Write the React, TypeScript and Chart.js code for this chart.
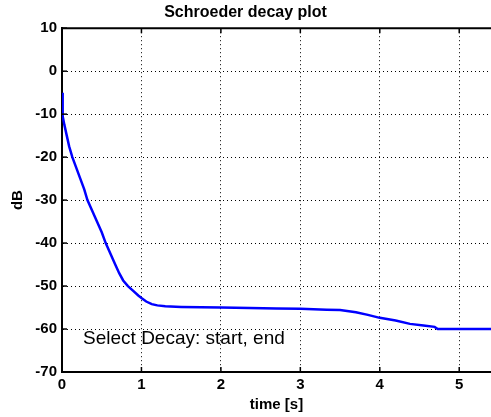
import React, { useEffect, useRef } from "react";
import { Chart, registerables } from "chart.js";

Chart.register(...registerables);

const TITLE = "Schroeder decay plot";
const X_TITLE = "time [s]";
const Y_TITLE = "dB";
const NOTE = "Select Decay: start, end";
const NOTE_POS = { x: 0.265, y: -62.3 };

const timeS = [0, 0.005, 0.012, 0.03, 0.06, 0.09, 0.13, 0.18, 0.23, 0.28, 0.32, 0.38, 0.44, 0.5, 0.55, 0.61, 0.67, 0.72, 0.77, 0.83, 0.9, 0.96, 1.0, 1.06, 1.13, 1.2, 1.3, 1.5, 1.75, 2.0, 2.36, 2.7, 3.0, 3.33, 3.5, 3.7, 3.85, 4.0, 4.2, 4.38, 4.55, 4.69, 4.73, 5.0, 5.4];
const decayDb = [-5, -8.5, -10.5, -12.5, -15, -17.5, -20, -22.5, -25, -27.5, -30, -32.5, -35, -37.5, -40, -42.5, -45, -47, -48.7, -50, -51.2, -52.2, -52.8, -53.6, -54.2, -54.5, -54.7, -54.85, -54.95, -55.0, -55.1, -55.2, -55.3, -55.5, -55.6, -56.1, -56.7, -57.4, -58.0, -58.8, -59.2, -59.5, -60, -60, -60];

const X_MIN = 0;
const X_MAX = 5.4;
const Y_MIN = -70;
const Y_MAX = 10;

const FONT = "'Liberation Sans', Arial, sans-serif";

const matlabPlugin = {
  id: "matlabExtras",
  afterDraw(chart: any) {
    const { ctx, chartArea, scales } = chart;
    const xs = scales.x;
    const ys = scales.y;
    ctx.save();
    ctx.strokeStyle = "#000";
    ctx.lineWidth = 2;
    ctx.beginPath();
    ctx.moveTo(chartArea.left, chartArea.top);
    ctx.lineTo(chartArea.right, chartArea.top);
    ctx.stroke();
    ctx.lineWidth = 1.5;
    xs.ticks.forEach((t: any) => {
      const px = xs.getPixelForValue(t.value);
      ctx.beginPath();
      ctx.moveTo(px, chartArea.bottom);
      ctx.lineTo(px, chartArea.bottom - 5);
      ctx.moveTo(px, chartArea.top);
      ctx.lineTo(px, chartArea.top + 5);
      ctx.stroke();
    });
    ys.ticks.forEach((t: any) => {
      const py = ys.getPixelForValue(t.value);
      ctx.beginPath();
      ctx.moveTo(chartArea.left, py);
      ctx.lineTo(chartArea.left + 5, py);
      ctx.stroke();
    });
    ctx.fillStyle = "#000";
    ctx.font = `19px ${FONT}`;
    ctx.textAlign = "left";
    ctx.textBaseline = "middle";
    ctx.fillText(NOTE, xs.getPixelForValue(NOTE_POS.x), ys.getPixelForValue(NOTE_POS.y));
    ctx.restore();
  },
};

export default function App() {
  const ref = useRef<HTMLCanvasElement>(null);
  useEffect(() => {
    document.body.style.margin = "0";
    document.body.style.background = "#fff";
    const chart = new Chart(ref.current!, {
      type: "line",
      data: {
        datasets: [
          {
            data: timeS.map((t, i) => ({ x: t, y: decayDb[i] })),
            borderColor: "#0000ff",
            borderWidth: 2.5,
            pointRadius: 0,
            tension: 0,
            fill: false,
          },
        ],
      },
      options: {
        animation: false,
        responsive: true,
        maintainAspectRatio: false,
        layout: { padding: { left: 0, right: 0, top: 0, bottom: 0 } },
        plugins: {
          legend: { display: false },
          tooltip: { enabled: false },
          title: {
            display: true,
            text: TITLE,
            color: "#000",
            font: { family: FONT, size: 16, weight: "bold" },
            padding: { top: 3, bottom: 6 },
          },
        },
        scales: {
          x: {
            type: "linear",
            min: X_MIN,
            max: X_MAX,
            afterFit: (s: any) => {
              s.height = 45;
            },
            ticks: {
              stepSize: 1,
              includeBounds: false,
              color: "#000",
              font: { family: FONT, size: 15, weight: "bold" },
              padding: 4,
              maxRotation: 0,
            },
            grid: {
              color: "#000",
              lineWidth: 1,
              drawTicks: false,
            },
            border: { display: true, color: "#000", width: 2, dash: [1, 3] },
            title: {
              display: true,
              text: X_TITLE,
              color: "#000",
              font: { family: FONT, size: 15, weight: "bold" },
              padding: { top: 0, bottom: 3 },
            },
          },
          y: {
            type: "linear",
            min: Y_MIN,
            max: Y_MAX,
            afterFit: (s: any) => {
              s.width = 62;
            },
            ticks: {
              stepSize: 10,
              color: "#000",
              font: { family: FONT, size: 15, weight: "bold" },
              padding: 5,
            },
            grid: {
              color: "#000",
              lineWidth: 1,
              drawTicks: false,
            },
            border: { display: true, color: "#000", width: 2, dash: [1, 3] },
            title: {
              display: true,
              text: Y_TITLE,
              color: "#000",
              font: { family: FONT, size: 15, weight: "bold" },
              padding: { top: 9, bottom: 0 },
            },
          },
        },
      },
      plugins: [matlabPlugin],
    } as any);
    return () => chart.destroy();
  }, []);
  return (
    <div style={{ width: 491, height: 417, position: "relative" }}>
      <canvas ref={ref} />
    </div>
  );
}
